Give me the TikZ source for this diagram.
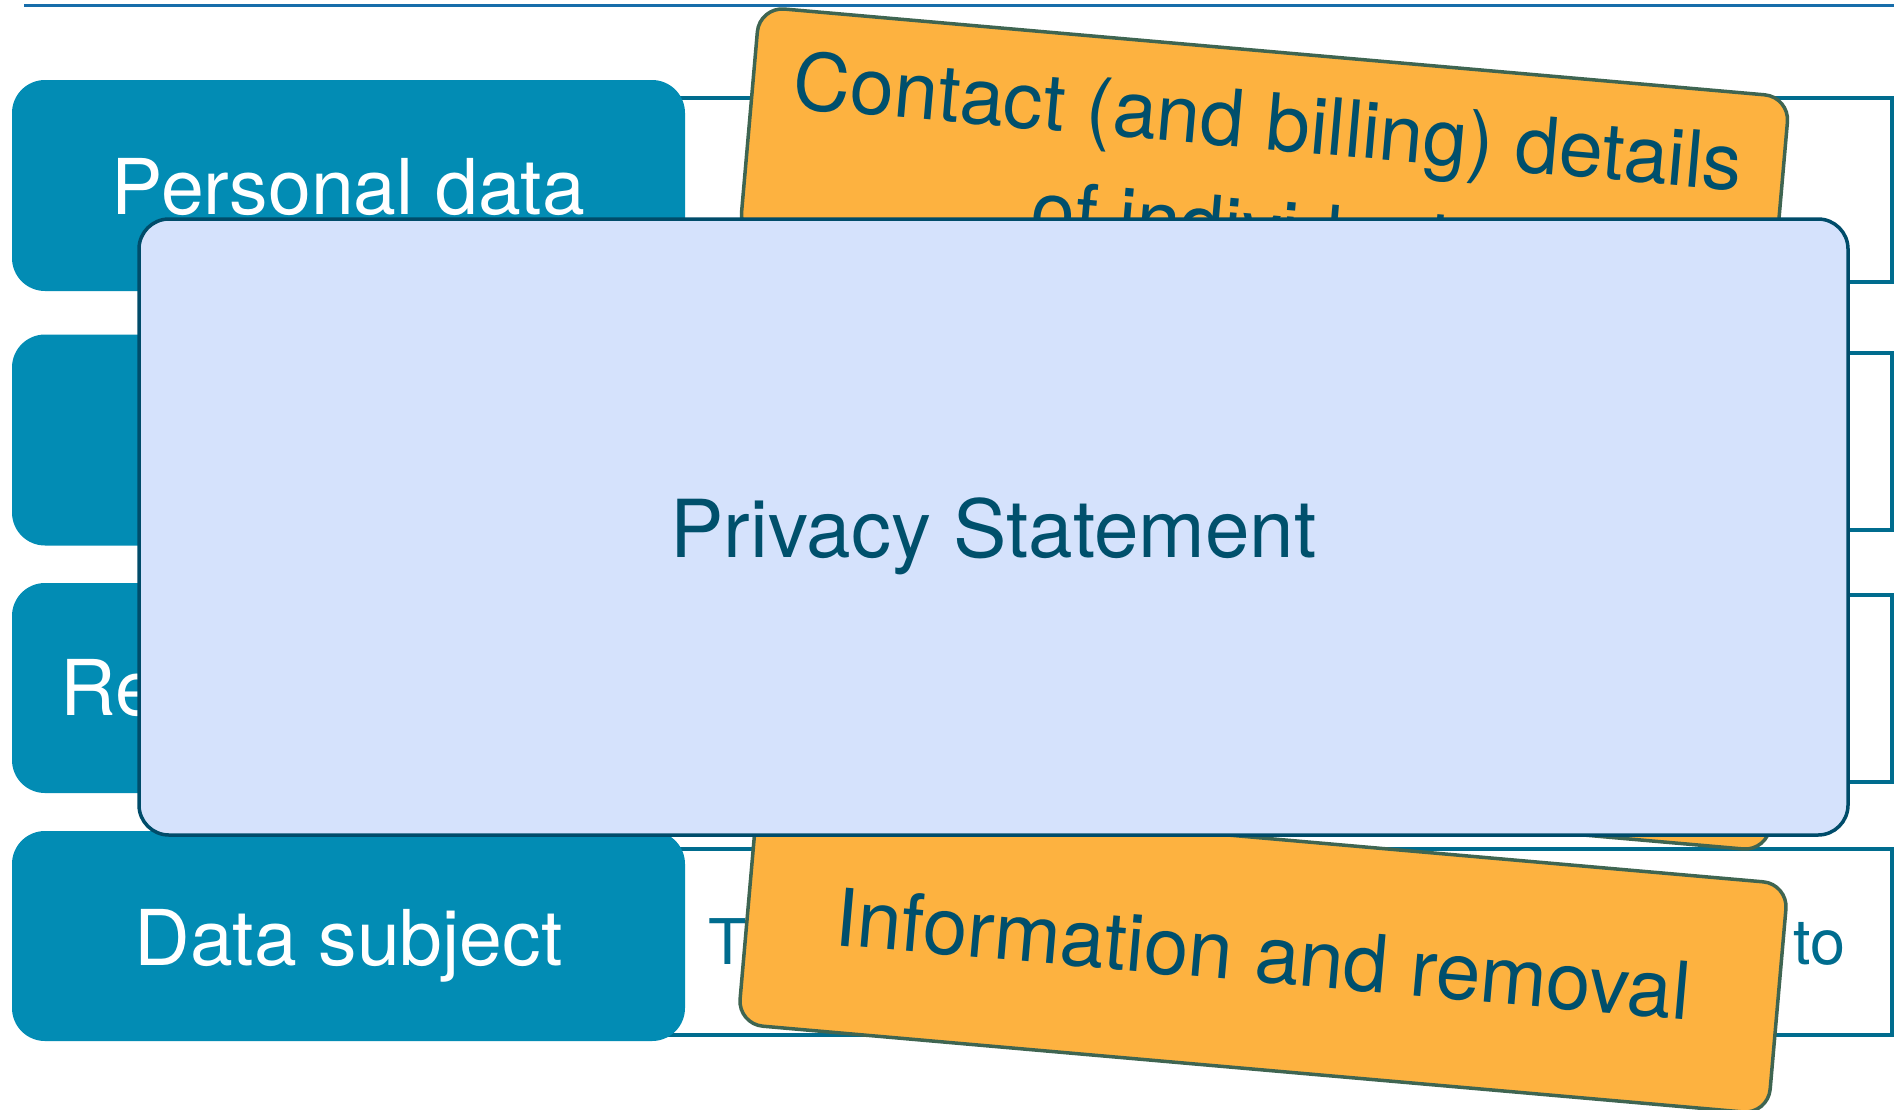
\documentclass[tikz,border=0pt]{standalone}
\usepackage{fontspec}
\setmainfont{TeX Gyre Heros}
\definecolor{toplinec}{HTML}{176DAA}
\definecolor{rowfill}{HTML}{028CB4}
\definecolor{rowline}{HTML}{006C8E}
\definecolor{privfill}{HTML}{D5E2FC}
\definecolor{privline}{HTML}{004C6A}
\definecolor{privtext}{HTML}{00506C}
\definecolor{cardfill}{HTML}{FDB240}
\definecolor{cardline}{HTML}{3F6551}
\definecolor{cardtext}{HTML}{004F6C}
\tikzset{
  rowbox/.style={fill=rowfill, rounded corners=33pt, minimum width=673pt,
    minimum height=211pt, inner sep=0pt, text=white,
    font=\fontsize{77}{90}\selectfont, text height=58pt, text depth=0pt},
  rowrect/.style={draw=rowline, line width=3.5pt, fill=white, anchor=north west,
    minimum width=1250pt, inner sep=0pt},
  rowtext/.style={inner sep=0pt, text=rowline, font=\fontsize{63}{75}\selectfont},
  card/.style={fill=cardfill, draw=cardline, line width=3.5pt, rounded corners=25pt,
    minimum width=1034pt, minimum height=231pt, inner sep=0pt},
  cardlabel/.style={inner sep=0pt, text=cardtext, align=center,
    font=\fontsize{79}{107}\selectfont},
  privbox/.style={fill=privfill, draw=privline, line width=3.5pt, rounded corners=30pt,
    minimum width=1709pt, minimum height=616pt, inner sep=0pt, text=privtext,
    font=\fontsize{80}{96}\selectfont, text height=61pt, text depth=0pt},
  topline/.style={draw=toplinec, line width=3.5pt}
}
\begin{document}
\begin{tikzpicture}[x=1pt, y=-1pt]
\useasboundingbox (0,0) rectangle (1894,1109);
\fill[white] (0,0) rectangle (1894,1109);
% top rule
\coordinate (tl) at (24,5.5);
\coordinate (tr) at (1894,5.5);
\draw[topline] (tl) -- (tr);
% right-hand rectangles
\node[rowrect, minimum height=184pt] (r1) at (640,96) {};
\node[rowrect, minimum height=177pt] (r2) at (640,351) {};
\node[rowrect, minimum height=187pt] (r3) at (640,593) {};
\node[rowrect, minimum height=186pt] (r4) at (640,847) {};
% texts in row 4 rectangle
\node[rowtext, anchor=base west] (r4a) at (708.5,964) {T};
\node[rowtext, anchor=base east] (r4b) at (1846,964) {to};
% left teal boxes
\node[rowbox] (b1) at (348.5,185.5) {Personal data};
\node[rowbox] (b2) at (348.5,440) {};
\node[rowbox, minimum height=210pt] (b3) at (348.5,688) {};
\node[inner sep=0pt, anchor=base west, text=white, font=\fontsize{77}{90}\selectfont] (b3t) at (60,715) {Re};
\node[rowbox, minimum height=210pt] (b4) at (348.5,936) {Data subject};
% tilted cards
\begin{scope}[shift={(1264.5,167)}, rotate=-5, transform shape]
  \node[card] (contact) at (0,0) {};
  \node[cardlabel] (contacttext) at (0,7) {Contact (and billing) details\\of individuals};
\end{scope}
\begin{scope}[shift={(1263,691)}, rotate=-5, transform shape]
  \node[card] (midcard) at (0,0) {};
\end{scope}
\begin{scope}[shift={(1263,954)}, rotate=-5, transform shape]
  \node[card, text=cardtext, font=\fontsize{80}{95}\selectfont, text height=57pt, text depth=0pt] (info) at (0,0) {Information and removal};
\end{scope}
% privacy statement overlay
\node[privbox] (privacy) at (993.5,527) {Privacy Statement};
\end{tikzpicture}
\end{document}
